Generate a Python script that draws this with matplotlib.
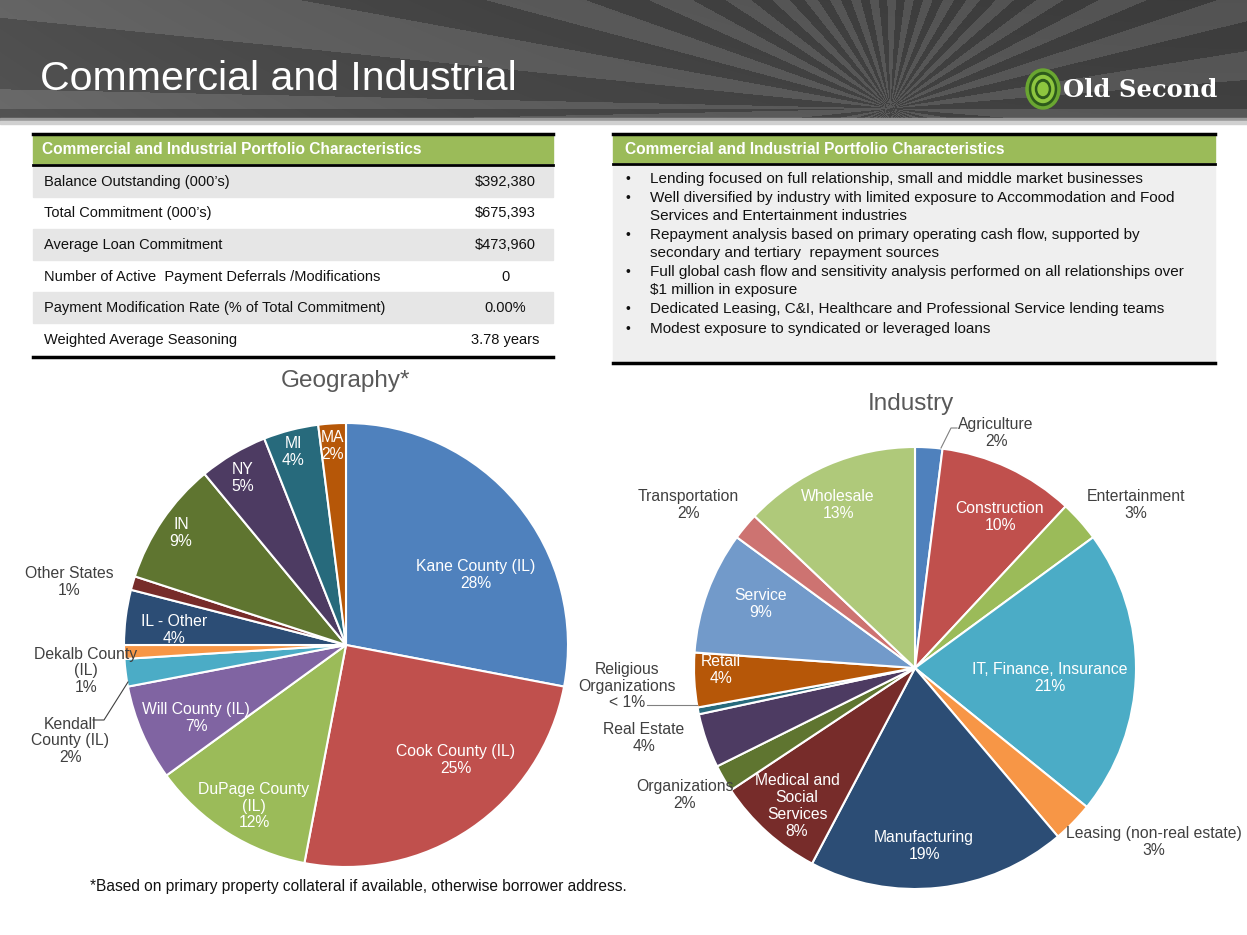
import numpy as np
import matplotlib.pyplot as plt
from matplotlib.patches import Rectangle, Ellipse

plt.rcParams['font.family'] = ['Liberation Sans', 'DejaVu Sans']

W, H = 1247, 935

# ---- data ----
table_title = "Commercial and Industrial Portfolio Characteristics"
table_rows = ["Balance Outstanding (000’s)", "Total Commitment (000’s)",
              "Average Loan Commitment",
              "Number of Active  Payment Deferrals /Modifications",
              "Payment Modification Rate (% of Total Commitment)",
              "Weighted Average Seasoning"]
table_vals = ["$392,380", "$675,393", "$473,960", "0", "0.00%", "3.78 years"]

bullets = [
    ["Lending focused on full relationship, small and middle market businesses"],
    ["Well diversified by industry with limited exposure to Accommodation and Food",
     "Services and Entertainment industries"],
    ["Repayment analysis based on primary operating cash flow, supported by",
     "secondary and tertiary  repayment sources"],
    ["Full global cash flow and sensitivity analysis performed on all relationships over",
     "$1 million in exposure"],
    ["Dedicated Leasing, C&I, Healthcare and Professional Service lending teams"],
    ["Modest exposure to syndicated or leveraged loans"],
]

geo_names = ["Kane County (IL)", "Cook County (IL)", "DuPage County\n(IL)", "Will County (IL)",
             "Kendall\nCounty (IL)", "Dekalb County\n(IL)", "IL - Other", "Other States",
             "IN", "NY", "MI", "MA"]
geo_share = [28, 25, 12, 7, 2, 1, 4, 1, 9, 5, 4, 2]
geo_pct = ["28%", "25%", "12%", "7%", "2%", "1%", "4%", "1%", "9%", "5%", "4%", "2%"]
geo_colors = ["#4F81BD", "#C0504D", "#9BBB59", "#8064A2", "#4BACC6", "#F79646",
              "#2C4D75", "#772C2A", "#5F7530", "#4D3B62", "#276A7C", "#B65708"]

ind_names = ["Agriculture", "Construction", "Entertainment", "IT, Finance, Insurance",
             "Leasing (non-real estate)", "Manufacturing", "Medical and\nSocial\nServices",
             "Organizations", "Real Estate", "Religious\nOrganizations", "Retail", "Service",
             "Transportation", "Wholesale"]
ind_share = [2, 10, 3, 21, 3, 19, 8, 2, 4, 0.5, 4, 9, 2, 13]
ind_pct = ["2%", "10%", "3%", "21%", "3%", "19%", "8%", "2%", "4%", "< 1%", "4%", "9%", "2%", "13%"]
ind_colors = ["#4F81BD", "#C0504D", "#9BBB59", "#4BACC6", "#F79646", "#2C4D75", "#772C2A",
              "#5F7530", "#4D3B62", "#276A7C", "#B65708", "#729ACA", "#CD7371", "#AFC97A"]

# label placement (pixels) and whether the label sits inside the slice
geo_pos = [(476, 575, 1), (456, 760, 1), (254, 806, 1), (196, 718, 1), (70, 741, 0),
           (86, 671, 0), (174, 630, 1), (69, 582, 0), (181, 533, 1), (243, 478, 1),
           (293, 452, 1), (332, 446, 1)]
ind_pos = [(996, 433, 0), (1000, 517, 1), (1136, 505, 0), (1050, 678, 1), (1154, 842, 0),
           (924, 846, 1), (797, 806, 1), (685, 795, 0), (644, 738, 0), (627, 686, 0),
           (721, 670, 1), (761, 604, 1), (688, 505, 0), (838, 505, 1)]

fig = plt.figure(figsize=(W / 100, H / 100), dpi=100)
bg = fig.add_axes([0, 0, 1, 1], zorder=0)
bg.axis('off')

# header with sunburst rays
yy, xx = np.mgrid[0:119, 0:W]
ang = np.arctan2(108 - yy, xx - 890.0)
stripe = (np.floor(ang / 0.08) % 2)
val = 0.235 + 0.09 * stripe + 0.07 * (1 - xx / W) ** 2 + 0.02 * (yy / 119)
img = np.dstack([val, val, val]).clip(0, 1)
bg.imshow(img, extent=(0, W, 119, 0), aspect='auto', interpolation='bilinear')
bg.add_patch(Rectangle((0, 118), W, 3, color='#9a9a9a'))
bg.add_patch(Rectangle((0, 121), W, 3, color='#d0d0d0'))
bg.set_xlim(0, W)
bg.set_ylim(H, 0)

bg.text(40, 79, "Commercial and Industrial", color='white', fontsize=29.5, va='center', ha='left')

# logo
for w, h, c in [(34, 40, '#6aa631'), (27, 33, '#2d5a1b'), (22, 27, '#8dc63f'),
                (15, 19, '#2d5a1b'), (10, 13, '#8dc63f')]:
    bg.add_patch(Ellipse((1043, 89), w, h, color=c, zorder=3))
bg.text(1063, 90, "Old Second", color='white', fontsize=17.5, fontweight='bold',
        family=['DejaVu Serif'], va='center', ha='left', zorder=3)

# left table
bg.plot([33, 553], [134, 134], color='black', lw=2.5)
bg.add_patch(Rectangle((33, 136), 520, 27, color='#9BBB59'))
bg.plot([33, 553], [164.5, 164.5], color='black', lw=2)
bg.text(42, 150, table_title, color='white', fontsize=11.2, fontweight='bold', va='center')
row_h = 31.6
for i, (name, v) in enumerate(zip(table_rows, table_vals)):
    y0 = 166 + i * row_h
    if i % 2 == 0:
        bg.add_patch(Rectangle((33, y0), 520, row_h - 1, color='#E6E6E6'))
    bg.text(44, y0 + row_h / 2, name, fontsize=10.5, va='center', color='#111111')
    bg.text(505, y0 + row_h / 2, v, fontsize=10.5, va='center', ha='center', color='#111111',
            parse_math=False)
bg.plot([33, 553], [357, 357], color='black', lw=2.5)

# right box
bg.plot([613, 1215], [134, 134], color='black', lw=2.5)
bg.add_patch(Rectangle((613, 136), 602, 26, color='#9BBB59'))
bg.plot([613, 1215], [163.5, 163.5], color='black', lw=2)
bg.add_patch(Rectangle((613, 165), 602, 196, color='#EFEFEF'))
bg.plot([613, 1215], [363, 363], color='black', lw=2.5)
bg.text(625, 149, table_title, color='white', fontsize=11.2, fontweight='bold', va='center')
y = 179
for lines in bullets:
    bg.text(626, y, "•", fontsize=10, va='center', color='#111111')
    for ln in lines:
        bg.text(650, y, ln, fontsize=11, va='center', color='#111111', parse_math=False)
        y += 17.6
    y += 1.8

bg.text(346, 381, "Geography*", fontsize=17.5, color='#595959', ha='center', va='center')
bg.text(911, 404, "Industry", fontsize=17.5, color='#595959', ha='center', va='center')
bg.text(90, 887, "*Based on primary property collateral if available, otherwise borrower address.",
        fontsize=11.2, va='center', color='#111111')


def pie_at(cx, cy, r, shares, colors):
    ax = fig.add_axes([(cx - r) / W, 1 - (cy + r) / H, 2 * r / W, 2 * r / H], zorder=1)
    ax.pie(shares, colors=colors, startangle=90, counterclock=False,
           wedgeprops=dict(edgecolor='white', linewidth=1.5))
    ax.set_xlim(-1, 1)
    ax.set_ylim(-1, 1)
    ax.axis('off')
    return ax


pie_at(346, 645, 222, geo_share, geo_colors)
pie_at(915, 668, 221, ind_share, ind_colors)

fg = fig.add_axes([0, 0, 1, 1], zorder=2)
fg.patch.set_alpha(0)
fg.set_xlim(0, W)
fg.set_ylim(H, 0)
fg.axis('off')

for names, pcts, pos in [(geo_names, geo_pct, geo_pos), (ind_names, ind_pct, ind_pos)]:
    for n, p, (x, y, inside) in zip(names, pcts, pos):
        fg.text(x, y, n + "\n" + p, ha='center', va='center', fontsize=11.3,
                linespacing=1.15, color='white' if inside else '#404040')

# leader lines
fg.plot([93, 104, 128], [720, 720, 682], color='#404040', lw=0.8)
fg.plot([941, 951, 957], [448, 428, 428], color='#808080', lw=0.8)
fg.plot([647, 697], [705, 705], color='#808080', lw=0.8)

fig.savefig("out.png", dpi=100)
